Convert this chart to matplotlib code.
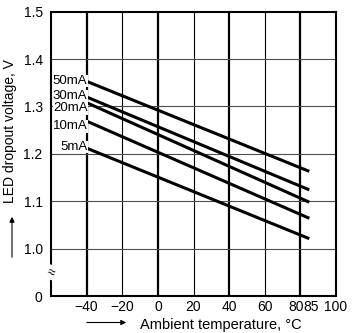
import matplotlib
matplotlib.use("Agg")
import matplotlib.pyplot as plt
from matplotlib.patches import FancyArrowPatch
from matplotlib.transforms import ScaledTranslation

plt.rcParams['font.family'] = ['Liberation Sans', 'DejaVu Sans']

# data
temps = [-40, 85]
currents = ["50mA", "30mA", "20mA", "10mA", "5mA"]
v_50 = [1.353, 1.163]
v_30 = [1.320, 1.124]
v_20 = [1.308, 1.098]
v_10 = [1.269, 1.064]
v_5 = [1.212, 1.021]
series = [v_50, v_30, v_20, v_10, v_5]
label_y = [1.354, 1.322, 1.296, 1.258, 1.214]  # label heights (spread apart)

xticks = [-40, -20, 0, 20, 40, 60, 80, 85, 100]
xlabels = ["\u221240", "\u221220", "0", "20", "40", "60", "80", "85", "100"]
yticks = [0.9, 1.0, 1.1, 1.2, 1.3, 1.4, 1.5]
ylabels = ["0", "1.0", "1.1", "1.2", "1.3", "1.4", "1.5"]

fig = plt.figure(figsize=(3.55, 3.33), dpi=100)
ax = fig.add_axes([0.1437, 0.1111, 0.8028, 0.8538])
ax.set_xlim(-60, 100)
ax.set_ylim(0.9, 1.5)

# grid
for x in [-40, 0, 40, 80]:
    ax.axvline(x, color="black", lw=1.6, zorder=1)
for x in [-20, 20, 60]:
    ax.axvline(x, color="black", lw=0.8, zorder=1)
for y in [1.0, 1.1, 1.2, 1.3, 1.4]:
    ax.axhline(y, color="0.3", lw=0.8, zorder=1)

# curves
for name, vals, ly in zip(currents, series, label_y):
    ax.plot(temps, vals, color="black", lw=2.2, solid_capstyle="butt", zorder=3)
    ax.text(-39.5, ly, name, ha="right", va="center", fontsize=9.5,
            bbox=dict(facecolor="white", edgecolor="none", pad=0.2), zorder=4)

ax.set_xticks(xticks)
ax.set_xticklabels(xlabels)
ax.set_yticks(yticks)
ax.set_yticklabels(ylabels)
ax.tick_params(length=0, labelsize=10)
ax.tick_params(axis="y", pad=6)
ax.tick_params(axis="x", pad=3)
for lab in ax.get_xticklabels():
    if lab.get_text() == "80":
        lab.set_transform(lab.get_transform() + ScaledTranslation(-0.045, 0, fig.dpi_scale_trans))
    if lab.get_text() == "85":
        lab.set_transform(lab.get_transform() + ScaledTranslation(0.02, 0, fig.dpi_scale_trans))

for s in ax.spines.values():
    s.set_linewidth(1.5)

# axis break mark
ax.text(-60, 0.95, "\u2248", ha="center", va="center", fontsize=10, rotation=-20,
        bbox=dict(facecolor="white", edgecolor="none", pad=0.2), zorder=5, clip_on=False)

# axis titles with arrows
fig.text(10 / 355, 1 - 131 / 333, "LED dropout voltage, V", rotation=90,
         ha="center", va="center", fontsize=10)
fig.text(140 / 355, 1 - 325 / 333, "Ambient temperature, \u00b0C",
         ha="left", va="center", fontsize=10.5)
fig.patches.append(FancyArrowPatch(
    (12 / 355, 1 - 260 / 333), (12 / 355, 1 - 214 / 333), transform=fig.transFigure,
    arrowstyle="-|>,head_length=3,head_width=1.5", color="black", lw=0.8))
fig.patches.append(FancyArrowPatch(
    (84 / 355, 1 - 322.5 / 333), (129 / 355, 1 - 322.5 / 333), transform=fig.transFigure,
    arrowstyle="-|>,head_length=3,head_width=1.5", color="black", lw=0.8))

fig.savefig("out.png", dpi=100)
